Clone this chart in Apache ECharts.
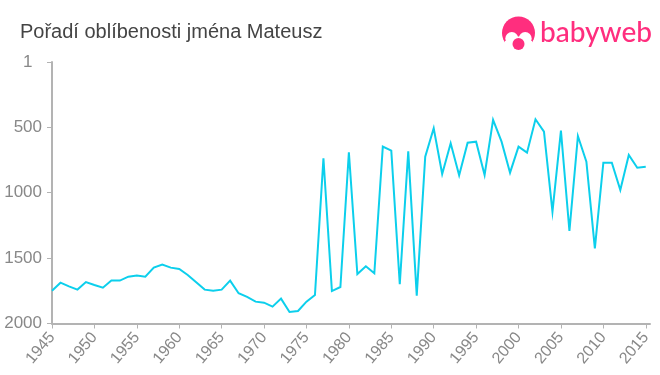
<!DOCTYPE html>
<html>
<head>
<meta charset="utf-8">
<title>Mateusz</title>
<script src="https://cdn.jsdelivr.net/npm/echarts@6/dist/echarts.min.js"></script>
<style>
html, body { margin: 0; padding: 0; background: #fff; }
#chart { width: 660px; height: 375px; }
</style>
</head>
<body>
<div id="chart"></div>
<script>
const years = [1945,1946,1947,1948,1949,1950,1951,1952,1953,1954,1955,1956,1957,1958,1959,1960,1961,1962,1963,1964,1965,1966,1967,1968,1969,1970,1971,1972,1973,1974,1975,1976,1977,1978,1979,1980,1981,1982,1983,1984,1985,1986,1987,1988,1989,1990,1991,1992,1993,1994,1995,1996,1997,1998,1999,2000,2001,2002,2003,2004,2005,2006,2007,2008,2009,2010,2011,2012,2013,2014,2015]
const ranks = [1749,1688,1716,1741,1683,1706,1726,1672,1672,1642,1634,1642,1573,1550,1573,1583,1629,1685,1741,1749,1741,1672,1769,1797,1833,1841,1871,1810,1912,1904,1833,1782,737,1752,1721,691,1622,1563,1616,648,679,1700,684,1787,725,508,857,622,867,618,610,865,444,610,847,648,694,439,534,1145,525,1293,567,763,1425,771,771,979,712,809,801]
const yearTicks = [1945,1950,1955,1960,1965,1970,1975,1980,1985,1990,1995,2000,2005,2010,2015]
const rankTicks = [1,500,1000,1500,2000]
const titleText = 'Pořadí oblíbenosti jména Mateusz'
const logoText = 'babyweb'

const pink = '#ff2e7e'
const myChart = echarts.init(document.getElementById('chart'), null, { renderer: 'canvas' })
myChart.setOption({
  animation: false,
  textStyle: { fontFamily: '"Liberation Sans", Arial, sans-serif' },
  title: {
    text: titleText,
    left: 15,
    top: 17,
    textStyle: { color: '#444', fontSize: 20, fontWeight: 'normal' }
  },
  grid: { left: 52, right: 10, top: 62, bottom: 51.5 },
  xAxis: {
    type: 'value',
    min: 1945,
    max: 2015.5,
    splitLine: { show: false },
    axisLine: { lineStyle: { color: '#b3b3b3', width: 2 } },
    axisTick: { show: true, length: 5, customValues: yearTicks, lineStyle: { color: '#b3b3b3', width: 1 } },
    axisLabel: {
      customValues: yearTicks,
      rotate: 50,
      margin: 11,
      color: '#888',
      fontSize: 16,
      formatter: v => String(v)
    }
  },
  yAxis: {
    type: 'value',
    inverse: true,
    min: 1,
    max: 2000,
    splitLine: { show: false },
    axisLine: { show: true, lineStyle: { color: '#b3b3b3', width: 2 } },
    axisTick: { show: true, length: 5, customValues: rankTicks, lineStyle: { color: '#b3b3b3', width: 1 } },
    axisLabel: {
      customValues: rankTicks,
      margin: 10,
      color: '#888',
      fontSize: 17,
      padding: [4, 0, 0, 0],
      formatter: v => (v === 1 ? '1\u00a0\u00a0' : String(v))
    }
  },
  series: [{
    type: 'line',
    data: years.map((y, i) => [y, ranks[i]]),
    showSymbol: false,
    clip: false,
    lineStyle: { color: '#0ccfec', width: 2, join: 'miter' }
  }],
  graphic: [
    { type: 'circle', shape: { cx: 518.5, cy: 33, r: 16.5 }, style: { fill: pink } },
    { type: 'circle', shape: { cx: 511.8, cy: 38.5, r: 6.5 }, style: { fill: '#fff' } },
    { type: 'circle', shape: { cx: 525.2, cy: 38.5, r: 6.5 }, style: { fill: '#fff' } },
    { type: 'circle', shape: { cx: 518.5, cy: 44, r: 7.5 }, style: { fill: '#fff' } },
    { type: 'rect', shape: { x: 505, y: 41, width: 27, height: 10 }, style: { fill: '#fff' } },
    { type: 'circle', shape: { cx: 518.5, cy: 44, r: 6 }, style: { fill: pink } },
    {
      type: 'text',
      left: 540,
      top: 19,
      style: { text: logoText, fill: pink, font: '500 28px Lato, sans-serif' }
    }
  ]
})
</script>
</body>
</html>
